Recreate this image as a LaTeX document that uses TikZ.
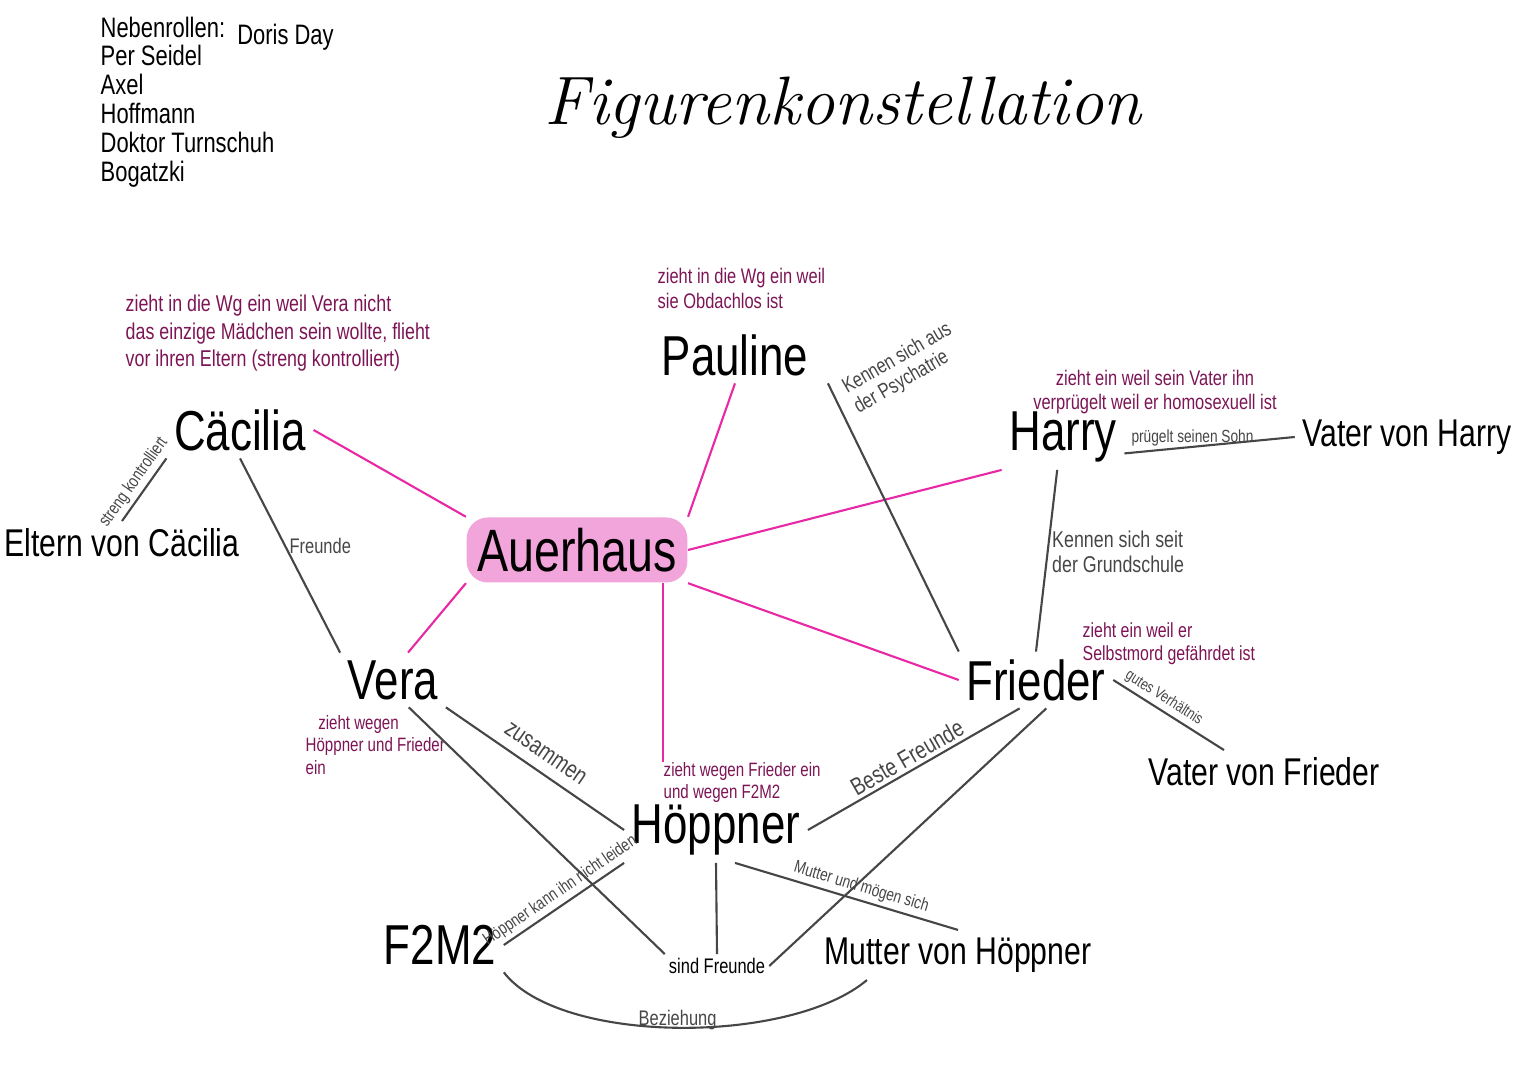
\documentclass[tikz,border=0pt]{standalone}
\usepackage{fontspec}
\newfontfamily\handfont[FakeStretch=0.78]{Liberation Sans}
\definecolor{notecol}{RGB}{125,20,85}
\definecolor{linkcol}{RGB}{232,40,165}
\definecolor{relcol}{RGB}{70,70,70}
\definecolor{hilite}{RGB}{242,165,218}
\tikzset{
  person/.style={font=\handfont\fontsize{16}{16}\selectfont, inner sep=2pt},
  minor/.style={font=\handfont\fontsize{11}{11}\selectfont, inner sep=2pt},
  hub/.style={font=\handfont\fontsize{17}{17}\selectfont, fill=hilite, rounded corners=6pt, inner sep=3pt},
  note/.style={font=\handfont\fontsize{6}{7}\selectfont, text=notecol, align=left, inner sep=0pt},
  rel/.style={font=\handfont\fontsize{5}{6}\selectfont, text=relcol, inner sep=1pt},
  link/.style={draw=linkcol, line width=0.6pt},
  tie/.style={draw=relcol, line width=0.6pt},
}
\begin{document}
\begin{tikzpicture}[x=0.01cm, y=-0.01cm]
\useasboundingbox (0,0) rectangle (1527,1080);
% heading and side roles
\node[font=\fontsize{19.5}{22}\selectfont\itshape] (title) at (843,108) {Figurenkonstellation};
\node[font=\handfont\fontsize{8}{8.2}\selectfont, align=left, anchor=north west, inner sep=0pt] (cast) at (100,16)
  {Nebenrollen:\ \ \raisebox{-2pt}[0pt][0pt]{Doris Day}\\Per Seidel\\Axel\\Hoffmann\\Doktor Turnschuh\\Bogatzki};

% characters
\node[hub] (auerhaus) at (577,550) {Auerhaus};
\node[person] (pauline) at (735,355) {Pauline};
\node[person] (caecilia) at (240,430) {Cäcilia};
\node[person] (harry) at (1063,437) {Harry};
\node[minor] (vharry) at (1407,437) {Vater von Harry};
\node[minor] (eltern) at (122,543) {Eltern von Cäcilia};
\node[person] (vera) at (393,680) {Vera};
\node[person] (frieder) at (1036,680) {Frieder};
\node[minor] (vfrieder) at (1264,772) {Vater von Frieder};
\node[person] (hoeppner) at (716,830) {Höppner};
\node[person] (f2m2) at (440,945) {F2M2};
\node[font=\handfont\fontsize{6}{6}\selectfont, inner sep=1pt] (sind) at (717,966) {sind Freunde};
\node[minor] (mutter) at (958,955) {Mutter von Höppner};

% why they move in
\node[note, font=\handfont\fontsize{6.5}{7.8}\selectfont, anchor=south west] (ncaecilia) at (125,372)
  {zieht in die Wg ein weil Vera nicht\\das einzige Mädchen sein wollte, flieht\\vor ihren Eltern (streng kontrolliert)};
\node[note, anchor=north west] (npauline) at (657,268) {zieht in die Wg ein weil\\sie Obdachlos ist};
\node[note, align=center] (nharry) at (1155,392) {zieht ein weil sein Vater ihn\\verprügelt weil er homosexuell ist};
\node[note, font=\handfont\fontsize{5.8}{6.6}\selectfont, anchor=north west] (nfrieder) at (1082,622) {zieht ein weil er\\Selbstmord gefährdet ist};
\node[note, font=\handfont\fontsize{5.5}{6.3}\selectfont, anchor=north west] (nvera) at (305,715) {\ \ \ zieht wegen\\Höppner und Frieder\\ein};
\node[note, font=\handfont\fontsize{5.5}{6.2}\selectfont, anchor=north west] (nhoeppner) at (663,762) {zieht wegen Frieder ein\\und wegen F2M2};

% Auerhaus links
\draw[link] (auerhaus.north west) -- (caecilia.east);
\draw[link] (auerhaus.north east) -- (pauline.south);
\draw[link] (auerhaus.east) -- (harry.south west);
\draw[link] (auerhaus.south east) -- (frieder.west);
\draw[link] (auerhaus.south west) -- ([xshift=0.15cm]vera.north);
\draw[link] (nhoeppner.north west) -- (nhoeppner.north west |- auerhaus.south);

% relations
\draw[tie] (eltern.north) -- node[rel, sloped, above] {streng kontrolliert} (caecilia.south west);
\draw[tie] (caecilia.south) -- node[rel, font=\handfont\fontsize{6}{6}\selectfont, right, pos=0.45] {Freunde} (vera.north west);
\draw[tie] (vera.south east) -- node[rel, font=\handfont\fontsize{7}{7}\selectfont, sloped, above=2pt] {zusammen} (hoeppner.west);
\draw[tie] (vera.-60) -- (sind.north west);
\draw[tie] (hoeppner.south) -- (sind.north);
\draw[tie] (frieder.-70) -- (sind.east);
\draw[tie] (hoeppner.east) -- node[rel, font=\handfont\fontsize{7}{7}\selectfont, sloped, above] {Beste Freunde} (frieder.240);
\draw[tie] (frieder.east) -- node[rel, font=\handfont\fontsize{4.5}{5}\selectfont, sloped, above, pos=0.4] {gutes Verhältnis} ([xshift=-0.4cm]vfrieder.north);
\draw[tie] ([xshift=0.12cm]pauline.south east) -- node[rel, font=\handfont\fontsize{6}{6.5}\selectfont, align=left, rotate=30, anchor=south west, pos=0.17, xshift=3pt] {Kennen sich aus\\der Psychatrie} (frieder.north west);
\draw[tie] (harry.-100) -- node[rel, font=\handfont\fontsize{6.5}{7}\selectfont, align=left, right, pos=0.45] {Kennen sich seit\\der Grundschule} (frieder.north);
\draw[tie] (harry.-15) -- node[rel, above=-1pt, pos=0.4] {prügelt seinen Sohn} (vharry.west);
\draw[tie] (f2m2.east) -- node[rel, sloped, above, pos=0.53] {Höppner kann ihn nicht leiden} (hoeppner.south west);
\draw[tie] (hoeppner.-60) -- node[rel, sloped, above, pos=0.55] {Mutter und mögen sich} (mutter.north);
\draw[tie] (f2m2.south east) .. controls (560,1045) and (790,1045) .. node[rel, font=\handfont\fontsize{6}{6}\selectfont, above=-2pt] {Beziehung} ([xshift=0.5cm]mutter.south west);
\end{tikzpicture}
\end{document}
